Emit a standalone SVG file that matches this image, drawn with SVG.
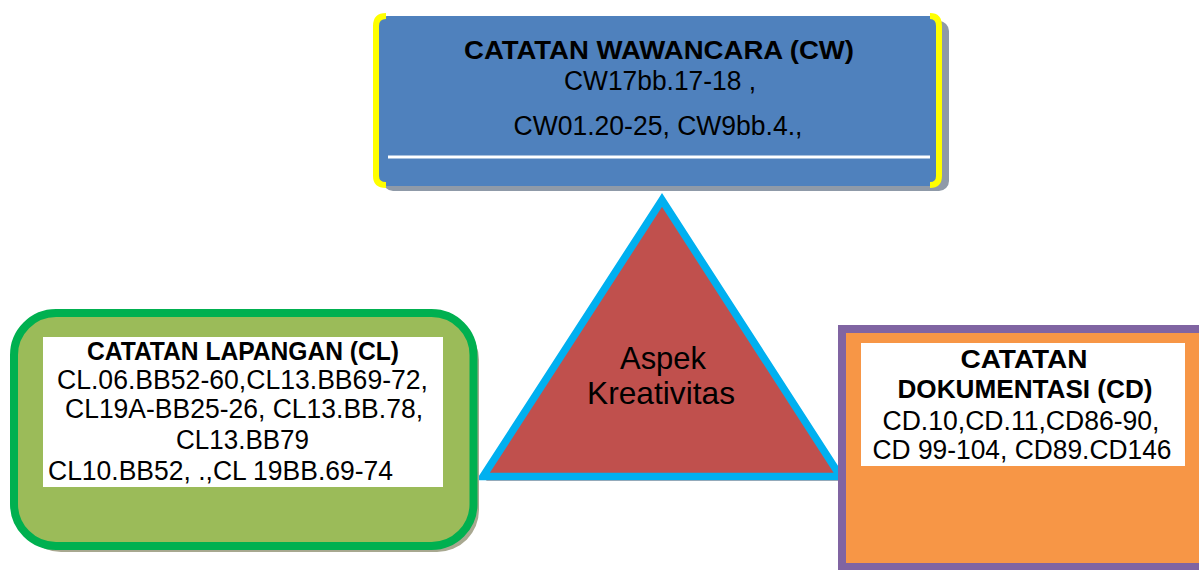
<svg xmlns="http://www.w3.org/2000/svg" width="1199" height="570" viewBox="0 0 1199 570">
<style>
text{font-family:"Liberation Sans",Arial,sans-serif;fill:#000;text-anchor:middle}
.b{font-weight:bold;font-size:25px}
.t{font-size:27px}
</style>
<rect width="1199" height="570" fill="#fff"/>
<g id="cw">
<rect x="383" y="21" width="566" height="170" rx="10" fill="#8f9aa8"/>
<rect x="377" y="16" width="565" height="170" rx="10" fill="#4F81BD"/>
<path d="M386,16 Q376,16 376,26 V176 Q376,185 386,185" fill="none" stroke="#FFFF00" stroke-width="6"/>
<path d="M930,16 Q939,16 939,26 V176 Q939,185 930,185" fill="none" stroke="#FFFF00" stroke-width="6"/>
<line x1="388" y1="157" x2="930" y2="157" stroke="#fff" stroke-width="3"/>
<text class="b" x="659" y="59" textLength="390" lengthAdjust="spacingAndGlyphs">CATATAN WAWANCARA (CW)</text>
<text class="t" x="660" y="90" textLength="192" lengthAdjust="spacingAndGlyphs">CW17bb.17-18 ,</text>
<text class="t" x="658" y="135" textLength="289" lengthAdjust="spacingAndGlyphs">CW01.20-25, CW9bb.4.,</text>
</g>
<g id="aspek">
<polygon points="665,205 486,481 843,481" fill="#a07070" opacity="0.6"/>
<polygon points="662,200 483,476.5 840.5,476.5" fill="#C0504D" stroke="#00B0F0" stroke-width="7.5" stroke-linejoin="miter"/>
<text x="663" y="369" font-size="32" textLength="86" lengthAdjust="spacingAndGlyphs">Aspek</text>
<text x="661" y="404" font-size="32" textLength="148" lengthAdjust="spacingAndGlyphs">Kreativitas</text>
</g>
<g id="cl">
<rect x="19" y="318" width="460" height="234" rx="42" fill="#a8a890"/>
<rect x="14" y="313" width="459.5" height="233" rx="42" fill="#9BBB59" stroke="#00B050" stroke-width="8"/>
<rect x="43" y="337" width="400" height="150" fill="#fff"/>
<text class="b" x="243" y="360" textLength="312" lengthAdjust="spacingAndGlyphs">CATATAN LAPANGAN (CL)</text>
<text class="t" x="242.5" y="389" textLength="371" lengthAdjust="spacingAndGlyphs">CL.06.BB52-60,CL13.BB69-72,</text>
<text class="t" x="244" y="418" textLength="358" lengthAdjust="spacingAndGlyphs">CL19A-BB25-26, CL13.BB.78,</text>
<text class="t" x="242.5" y="449" textLength="133" lengthAdjust="spacingAndGlyphs">CL13.BB79</text>
<text class="t" x="48" y="480" style="text-anchor:start" textLength="345" lengthAdjust="spacingAndGlyphs">CL10.BB52, .,CL 19BB.69-74</text>
</g>
<g id="cd">
<rect x="842" y="329" width="370" height="238" fill="#F79646" stroke="#8064A2" stroke-width="8"/>
<rect x="861" y="343" width="324" height="123" fill="#fff"/>
<text class="b" x="1024" y="368" textLength="127" lengthAdjust="spacingAndGlyphs">CATATAN</text>
<text class="b" x="1025" y="398" textLength="255" lengthAdjust="spacingAndGlyphs">DOKUMENTASI (CD)</text>
<text class="t" x="1021" y="430" textLength="277" lengthAdjust="spacingAndGlyphs">CD.10,CD.11,CD86-90,</text>
<text class="t" x="1022" y="459" textLength="299" lengthAdjust="spacingAndGlyphs">CD 99-104, CD89.CD146</text>
</g>
<g id="connectors"/>
</svg>
